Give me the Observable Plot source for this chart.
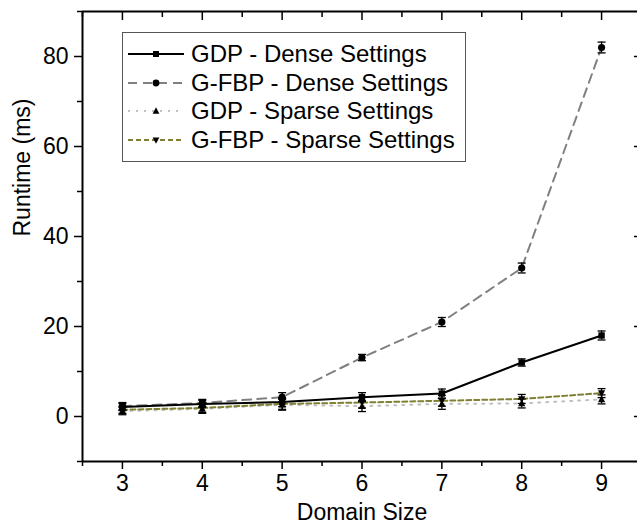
<!DOCTYPE html>
<html><head><meta charset="utf-8">
<script src="https://cdn.jsdelivr.net/npm/d3@7"></script>
<script src="https://cdn.jsdelivr.net/npm/@observablehq/plot@0.6"></script>
<style>
html,body{margin:0;padding:0;background:#fff;overflow:hidden;}
#wrap{position:relative;width:637px;height:527px;overflow:hidden;font-family:"Liberation Sans",Arial,sans-serif;}
#legend{position:absolute;left:122px;top:32px;width:342px;height:128px;border:1px solid #555;background:#fff;}
.row{position:absolute;left:4px;height:28px;display:flex;align-items:center;font-size:24px;color:#000;white-space:nowrap;}
.row svg{margin-right:6px;}
</style>
</head><body>
<div id="wrap"></div>
<script>
const domainSizes = [3, 4, 5, 6, 7, 8, 9];
const seriesNames = ["GDP - Dense Settings", "G-FBP - Dense Settings", "GDP - Sparse Settings", "G-FBP - Sparse Settings"];
const gdpDense    = [2.1, 2.8, 3.2, 4.3, 5.1, 12.0, 18.0];
const gdpDenseErr = [0.8, 0.8, 1.0, 1.0, 1.0, 0.8, 1.0];
const gfbpDense    = [2.3, 3.0, 4.3, 13.1, 21.0, 33.0, 82.0];
const gfbpDenseErr = [0.8, 0.8, 1.0, 0.7, 1.0, 1.1, 1.2];
const gdpSparse    = [1.2, 1.7, 2.6, 2.3, 2.8, 2.9, 3.8];
const gdpSparseErr = [0.8, 1.0, 1.2, 1.2, 1.2, 1.0, 1.0];
const gfbpSparse    = [1.5, 1.9, 2.8, 3.1, 3.5, 3.9, 5.2];
const gfbpSparseErr = [0.8, 1.0, 1.2, 1.2, 1.2, 1.0, 1.0];
const yMajorTicks = [0, 20, 40, 60, 80];
const yMinorTicks = [-10, 10, 30, 50, 70, 90];
const xMajorTicks = [3, 4, 5, 6, 7, 8, 9];
const xMinorTicks = [2.5, 3.5, 4.5, 5.5, 6.5, 7.5, 8.5, 9.5];

const styles = [
  {stroke: "#000000", dash: null, width: 2, symbol: "square"},
  {stroke: "#808080", dash: "9,6", width: 2, symbol: "circle"},
  {stroke: "#c0c0c0", dash: "2,6", width: 2, symbol: "up"},
  {stroke: "#808033", dash: "5,3", width: 2, symbol: "down"}
];

const symbols = {
  square: {draw(c, s){ const r = Math.sqrt(s)/2; c.rect(-r, -r, 2*r, 2*r); }},
  circle: {draw(c, s){ const r = Math.sqrt(s/Math.PI); c.moveTo(r,0); c.arc(0,0,r,0,2*Math.PI); }},
  up: {draw(c, s){ const r = Math.sqrt(s)/1.6; c.moveTo(0,-r); c.lineTo(r*0.9, r*0.7); c.lineTo(-r*0.9, r*0.7); c.closePath(); }},
  down: {draw(c, s){ const r = Math.sqrt(s)/1.6; c.moveTo(0,r); c.lineTo(r*0.9, -r*0.7); c.lineTo(-r*0.9, -r*0.7); c.closePath(); }},
  cap: {draw(c, s){ const r = Math.sqrt(s)/2; c.moveTo(-r,0); c.lineTo(r,0); }}
};

const allSeries = [
  [gdpDense, gdpDenseErr], [gfbpDense, gfbpDenseErr], [gdpSparse, gdpSparseErr], [gfbpSparse, gfbpSparseErr]
];
const rows = [];
allSeries.forEach(([vals, errs], si) => {
  domainSizes.forEach((x, i) => rows.push({series: seriesNames[si], si, x, y: vals[i], lo: vals[i]-errs[i], hi: vals[i]+errs[i]}));
});

const marks = [];
[2, 3, 1, 0].forEach(si => {
  const st = styles[si];
  const d = rows.filter(r => r.si === si);
  marks.push(Plot.line(d, {x: "x", y: "y", stroke: st.stroke, strokeWidth: st.width, strokeDasharray: st.dash}));
});
[2, 3, 1, 0].forEach(si => {
  const st = styles[si];
  const d = rows.filter(r => r.si === si);
  marks.push(Plot.ruleX(d, {x: "x", y1: "lo", y2: "hi", stroke: "#000", strokeWidth: 1.3}));
  marks.push(Plot.dot(d, {x: "x", y: "lo", symbol: symbols.cap, r: 4.5, stroke: "#000", strokeWidth: 1.3}));
  marks.push(Plot.dot(d, {x: "x", y: "hi", symbol: symbols.cap, r: 4.5, stroke: "#000", strokeWidth: 1.3}));
  marks.push(Plot.dot(d, {x: "x", y: "y", symbol: symbols[st.symbol], r: 3.6, fill: "#000", stroke: "none"}));
});

const chart = Plot.plot({
  width: 637, height: 527,
  marginLeft: 82, marginRight: -4, marginTop: 11, marginBottom: 66,
  style: {fontFamily: "'Liberation Sans', Arial, sans-serif", fontSize: "23px", color: "#000", background: "#fff"},
  x: {domain: [2.5, 9.5]},
  y: {domain: [-10, 90]},
  marks: [
    ...marks,
    Plot.axisY({ticks: yMajorTicks, tickSize: 8, tickPadding: 6, tickFormat: d => String(d), fontSize: 23, strokeWidth: 1.5, label: null}),
    Plot.axisY({ticks: yMinorTicks, tickSize: 5, tickFormat: () => "", strokeWidth: 1.5, label: null}),
    Plot.axisY({anchor: "right", ticks: yMajorTicks, tickSize: 8, dx: -8, tickFormat: () => "", strokeWidth: 1.5, label: null}),
    Plot.axisY({anchor: "right", ticks: yMinorTicks, tickSize: 5, dx: -5, tickFormat: () => "", strokeWidth: 1.5, label: null}),
    Plot.axisX({ticks: xMajorTicks, tickSize: 8, tickPadding: 5, tickFormat: d => String(d), fontSize: 23, strokeWidth: 1.5, label: null}),
    Plot.axisX({ticks: xMinorTicks, tickSize: 5, tickFormat: () => "", strokeWidth: 1.5, label: null}),
    Plot.axisX({anchor: "top", ticks: xMajorTicks, tickSize: 8, dy: 8, tickFormat: () => "", strokeWidth: 1.5, label: null}),
    Plot.axisX({anchor: "top", ticks: xMinorTicks, tickSize: 5, dy: 5, tickFormat: () => "", strokeWidth: 1.5, label: null}),
    Plot.ruleY([90], {stroke: "#000", strokeWidth: 2}),
    Plot.ruleY([-10], {stroke: "#000", strokeWidth: 2}),
    Plot.ruleX([2.5], {stroke: "#000", strokeWidth: 2}),
    Plot.text(["Domain Size"], {frameAnchor: "bottom", dy: 58, fontSize: 23, fill: "#000"}),
    Plot.text(["Runtime (ms)"], {frameAnchor: "left", dx: -60, rotate: -90, fontSize: 23, fill: "#000"})
  ]
});
const wrap = document.getElementById("wrap");
wrap.appendChild(chart);

const leg = document.createElement("div");
leg.id = "legend";
seriesNames.forEach((name, si) => {
  const st = styles[si];
  const row = document.createElement("div");
  row.className = "row";
  row.style.top = (7 + si * 28.5) + "px";
  const svg = d3.create("svg").attr("width", 58).attr("height", 20);
  svg.append("line").attr("x1", 1).attr("x2", 57).attr("y1", 10).attr("y2", 10)
    .attr("stroke", st.stroke).attr("stroke-width", st.width).attr("stroke-dasharray", st.dash);
  const p = d3.path(); symbols[st.symbol].draw(p, 36);
  svg.append("path").attr("d", p.toString()).attr("transform", "translate(29,10)").attr("fill", "#000");
  row.appendChild(svg.node());
  const t = document.createElement("span"); t.textContent = name;
  row.appendChild(t);
  leg.appendChild(row);
});
wrap.appendChild(leg);
</script>
</body></html>
